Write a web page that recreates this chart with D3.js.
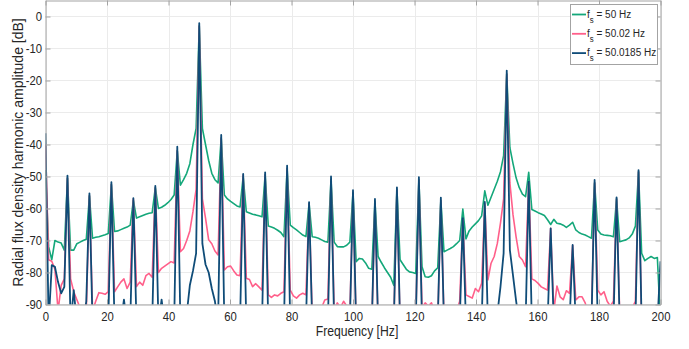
<!DOCTYPE html>
<html>
<head>
<meta charset="utf-8">
<script src="https://cdn.jsdelivr.net/npm/d3@7"></script>
<style>
  html, body { margin: 0; padding: 0; background: #fff; }
  svg { display: block; font-family: "Liberation Sans", Arial, sans-serif; }
</style>
</head>
<body>
<svg id="chart" width="689" height="349"></svg>
<script>
// Spectrum bins: 197 bins spanning 0–200 Hz (bin width 200/196 Hz)
const binCount = 197;
const binHz = 200 / 196;
const freq = d3.range(binCount).map(i => i * binHz);

// Harmonic amplitude [dB] per bin; values below -90 dB fall outside the axes
const ampFs50 = [
  -48, -72, -76, -70, -70.5, -70.8, -73,
  -50.5, -73, -73, -71, -70.5, -70, -69.6,
  -56, -69.3, -69, -68.8, -68.5, -68.2, -67.8,
  -52.5, -67.2, -67, -66.6, -66.2, -65.8, -65.2,
  -57.5, -63, -62.6, -62.2, -61.8, -61.5, -61.3,
  -53.5, -60, -59.6, -59, -58.2, -57.2, -55.8,
  -42, -52.7, -51, -49, -46, -40, -35,
  -3, -35, -40, -45, -49, -51, -52,
  -38, -55.8, -57, -57.8, -58.5, -59.2, -59.5,
  -50, -61, -61.4, -61.8, -62, -62.3, -62.6,
  -49.5, -65.5, -65.8, -66.2, -66.8, -67.5, -68.8,
  -47.5, -65.2, -66, -66.7, -67.5, -68.3, -68.8,
  -58.5, -68.8, -69, -69.3, -69.8, -70.3, -70.5,
  -51, -70.5, -71.9, -72, -72, -71.5, -70.5,
  -55, -76.6, -75.6, -75.8, -77, -78.7, -79,
  -58, -75, -76.8, -78.5, -80, -81.5, -84,
  -54, -76, -77.5, -79, -79.8, -80, -80.3,
  -51, -78.2, -81.3, -81.5, -81, -79.5, -78.5,
  -57.5, -73.5, -73, -72.5, -71.9, -71, -70,
  -60.2, -69.5, -67, -65.8, -64.8, -63.8, -62.3,
  -54.5, -59, -56.5, -54, -51.5, -48.5, -43.5,
  -18, -41, -46, -50.5, -53.5, -55.5, -56.3,
  -48.7, -60.3, -60.8, -61.3, -61.7, -62.2, -63.5,
  -65, -63.4, -64.6, -64.8, -65.2, -65.9, -65.2,
  -64.3, -66.7, -67.5, -68, -68.3, -68.8, -69.3,
  -52, -66.7, -68, -68.3, -68.4, -68.5, -68.8,
  -57, -70.4, -70.1, -69.8, -69.2, -68, -65.5,
  -48.5, -74, -76.3, -75.6, -75, -75.6, -75.3,
  -96
];

const ampFs5002 = [
  -40, -76, -76.5, -79, -92, -84, -82,
  -50.5, -82, -86, -88.5, -91, -93, -92,
  -56, -92, -89, -86.3, -86.5, -86.8, -86,
  -52.5, -86, -84.5, -83, -82, -85, -83,
  -57, -84.4, -83, -84, -81, -80.3, -81.5,
  -53.5, -80, -78.7, -78, -77.3, -76.6, -77,
  -42, -73.5, -72.5, -70, -67, -61, -54,
  -3, -57, -63, -69.8, -71, -73.3, -74.5,
  -38, -79.2, -78.2, -78, -79.5, -80.8, -81,
  -49.5, -81.8, -82.2, -84.4, -83.5, -84.5, -85.5,
  -49.5, -87, -87.8, -87, -87.3, -86.5, -86,
  -47.5, -85.5, -87.3, -88, -87, -86.5, -87,
  -58.5, -93, -96, -93, -91, -88.6, -88.3,
  -51, -92, -89.5, -91, -89, -90.5, -93,
  -55, -96, -96, -96, -96, -96, -96,
  -58, -96, -96, -96, -96, -96, -96,
  -54, -96, -96, -96, -96, -96, -96,
  -51, -91, -89.5, -90.5, -89.5, -92, -96,
  -57.5, -94, -96, -93, -91, -92, -89,
  -63.5, -87, -87.5, -88, -85, -86, -83.4,
  -58.5, -82.3, -77.1, -75, -70.9, -64.6, -57,
  -18, -52, -62, -69, -75, -76.1, -78.2,
  -52, -82, -82.5, -83.4, -84.5, -85, -85.5,
  -66.2, -92, -84.2, -87.6, -88.5, -85.7, -86.5,
  -71.5, -88.6, -87.6, -87.6, -89.5, -93, -94,
  -52, -85.5, -87, -86, -89, -90.5, -89,
  -57, -93, -95, -92, -90.5, -91, -89,
  -48.5, -96, -96, -96, -96, -96, -96,
  -96
];

const ampFs500185 = [
  -36.5, -96, -77.7, -78.2, -83, -86.5, -84.5,
  -49.7, -96, -85.5, -96, -96, -96, -89,
  -55.3, -96, -96, -96, -96, -96, -96,
  -51.8, -96, -96, -96, -88.5, -96, -96,
  -56.8, -96, -96, -96, -96, -96, -96,
  -52.9, -96, -88.5, -96, -96, -96, -96,
  -40.7, -96, -96, -93, -84, -79.5, -74,
  -2.1, -71, -77.5, -80, -85, -89, -96,
  -37, -96, -96, -96, -96, -96, -96,
  -49.2, -96, -96, -96, -96, -96, -96,
  -48.7, -96, -96, -96, -96, -96, -96,
  -46.6, -96, -96, -96, -96, -96, -96,
  -58, -96, -96, -96, -96, -96, -96,
  -50, -96, -96, -96, -96, -96, -96,
  -54.3, -96, -96, -96, -96, -96, -96,
  -57, -96, -96, -96, -96, -96, -96,
  -53.4, -96, -96, -96, -96, -96, -96,
  -50.2, -96, -96, -96, -96, -96, -96,
  -56.6, -96, -96, -96, -96, -96, -96,
  -63, -96, -96, -96, -96, -96, -96,
  -57.9, -96, -96, -96, -93, -84.5, -74,
  -16.9, -73, -81, -89, -96, -96, -96,
  -51.6, -96, -96, -96, -96, -96, -96,
  -66.2, -96, -96, -96, -96, -96, -96,
  -71.4, -96, -96, -96, -96, -96, -96,
  -51.1, -96, -96, -96, -96, -96, -96,
  -56.5, -96, -96, -96, -96, -96, -96,
  -48, -96, -96, -96, -96, -96, -96,
  -76.5
];

const seriesLabels = ["50 Hz", "50.02 Hz", "50.0185 Hz"];
const seriesColors = ["#14a77a", "#ff5f8a", "#0f4c78"];
const xTicks = [0, 20, 40, 60, 80, 100, 120, 140, 160, 180, 200];
const yTicks = [0, -10, -20, -30, -40, -50, -60, -70, -80, -90];

const svg = d3.select("#chart");
const plot = { left: 45.5, right: 660.5, top: 0.5, bottom: 304.5 };
const axisGrey = "#a3a3a3";
const textGrey = "#262626";

const x = d3.scaleLinear().domain([0, 200]).range([plot.left, plot.right]);
const y = d3.scaleLinear().domain([-90, 5]).range([plot.bottom, plot.top]);

// Narrow the glyphs horizontally so the labels keep their tall, condensed look
function condense(sel, k) {
  sel.each(function () {
    const len = this.getComputedTextLength();
    if (len > 0) {
      d3.select(this).attr("textLength", len * k).attr("lengthAdjust", "spacingAndGlyphs");
    }
  });
}

// Grid
const grid = svg.append("g").attr("stroke", "#ebebeb").attr("stroke-width", 1);
grid.selectAll("line.gx").data(xTicks).join("line")
  .attr("x1", d => Math.round(x(d)) + 0.5).attr("x2", d => Math.round(x(d)) + 0.5)
  .attr("y1", plot.top).attr("y2", plot.bottom);
grid.selectAll("line.gy").data(yTicks).join("line")
  .attr("x1", plot.left).attr("x2", plot.right)
  .attr("y1", d => y(d)).attr("y2", d => y(d));

// Spectra, clipped to the axes box
svg.append("clipPath").attr("id", "plotClip")
  .append("rect")
  .attr("x", plot.left).attr("y", plot.top)
  .attr("width", plot.right - plot.left).attr("height", plot.bottom - plot.top);

const series = [ampFs50, ampFs5002, ampFs500185];
const line = d3.line().x((d, i) => x(freq[i])).y(d => y(d));
const lines = svg.append("g").attr("clip-path", "url(#plotClip)");
series.forEach((vals, s) => {
  lines.append("path")
    .datum(vals)
    .attr("fill", "none")
    .attr("stroke", seriesColors[s])
    .attr("stroke-width", s === 2 ? 1.8 : 1.6)
    .attr("stroke-linejoin", "round")
    .attr("d", line);
});

// Axes (box with inward ticks)
function styleAxis(g) {
  g.select(".domain").attr("stroke", axisGrey);
  g.selectAll(".tick line").attr("stroke", axisGrey);
  g.selectAll(".tick text").attr("fill", textGrey)
    .attr("font-size", 13).attr("font-family", "'Liberation Sans', Arial, sans-serif");
}
const plain = d => String(d);

const gx = svg.append("g").attr("transform", `translate(0,${plot.bottom})`)
  .call(d3.axisBottom(x).tickValues(xTicks).tickFormat(plain)
    .tickSizeInner(-5).tickSizeOuter(0).tickPadding(7))
  .call(styleAxis);
const gy = svg.append("g").attr("transform", `translate(${plot.left},0)`)
  .call(d3.axisLeft(y).tickValues(yTicks).tickFormat(plain)
    .tickSizeInner(-5).tickSizeOuter(0).tickPadding(3.5))
  .call(styleAxis);
svg.append("g").attr("transform", `translate(0,${plot.top})`)
  .call(d3.axisTop(x).tickValues(xTicks).tickSizeInner(-5).tickSizeOuter(0).tickFormat(""))
  .call(styleAxis);
svg.append("g").attr("transform", `translate(${plot.right},0)`)
  .call(d3.axisRight(y).tickValues(yTicks).tickSizeInner(-5).tickSizeOuter(0).tickFormat(""))
  .call(styleAxis);

condense(gx.selectAll(".tick text"), 0.87);
condense(gy.selectAll(".tick text"), 0.87);

// Axis titles
const xTitle = svg.append("text")
  .attr("x", (plot.left + plot.right) / 2 + 4).attr("y", 336)
  .attr("text-anchor", "middle").attr("font-size", 14).attr("fill", textGrey)
  .text("Frequency [Hz]");
condense(xTitle, 0.87);

svg.append("text")
  .attr("transform", `translate(23,${(plot.top + plot.bottom) / 2}) rotate(-90)`)
  .attr("text-anchor", "middle").attr("font-size", 14).attr("fill", textGrey)
  .text("Radial flux density harmonic amplitude [dB]");

// Legend
const legend = svg.append("g");
legend.append("rect")
  .attr("x", 570.5).attr("y", 4.5).attr("width", 87).attr("height", 60)
  .attr("fill", "#fff").attr("stroke", axisGrey);
seriesLabels.forEach((lab, s) => {
  const ly = 14.5 + s * 19.3;
  legend.append("line")
    .attr("x1", 572).attr("x2", 586).attr("y1", ly).attr("y2", ly)
    .attr("stroke", seriesColors[s]).attr("stroke-width", 1.8);
  const t = legend.append("text")
    .attr("transform", `translate(587,${ly + 3.2}) scale(0.87,1)`)
    .attr("font-size", 11.5).attr("fill", textGrey);
  t.append("tspan").text("f");
  t.append("tspan").attr("dy", 5).attr("font-size", 9).text("s");
  t.append("tspan").attr("dy", -5).text(" = " + lab);
});
</script>
</body>
</html>
